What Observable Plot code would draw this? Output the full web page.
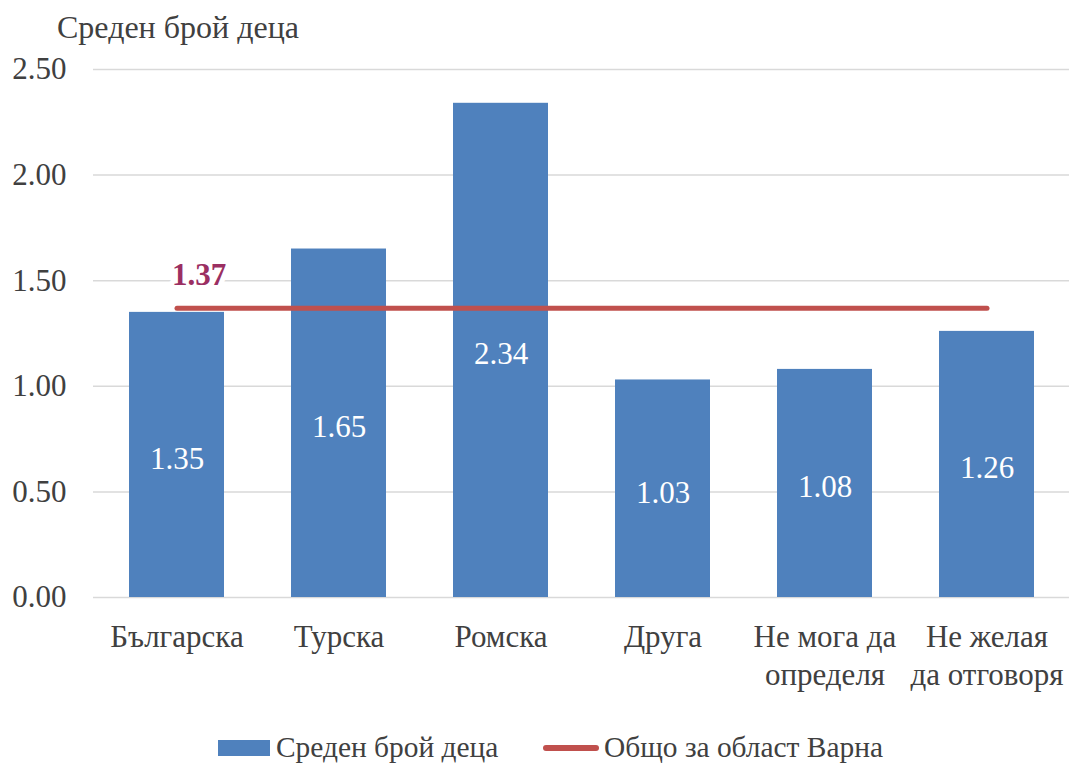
<!DOCTYPE html>
<html>
<head>
<meta charset="utf-8">
<script src="https://cdn.jsdelivr.net/npm/d3@7"></script>
<script src="https://cdn.jsdelivr.net/npm/@observablehq/plot@0.6"></script>
<style>
  body { margin: 0; background: #fff; font-family: "Liberation Serif", "Times New Roman", serif; overflow: hidden; }
  #wrap { position: relative; width: 1070px; height: 767px; overflow: hidden; }
  #title { position: absolute; left: 57px; top: 9px; font-size: 32px; color: #404040; }
  .lg { position: absolute; font-size: 30px; color: #404040; transform: scaleX(0.98); transform-origin: left center; white-space: nowrap; line-height: 1; }
  .sw { position: absolute; }
</style>
</head>
<body>
<div id="wrap">
  <div id="chart"></div>
  <div id="title">Среден брой деца</div>
  <span class="sw" style="left:218px;top:740px;width:52px;height:16px;background:#4F81BD"></span>
  <span class="lg" style="left:276px;top:732px">Среден брой деца</span>
  <span class="sw" style="left:543px;top:745px;width:56px;height:6px;border-radius:3px;background:#C0504D"></span>
  <span class="lg" style="left:604px;top:732px">Общо за област Варна</span>
</div>
<script>
const categories = ["Българска", "Турска", "Ромска", "Друга", "Не мога да\nопределя", "Не желая\nда отговоря"];
const values = [1.35, 1.65, 2.34, 1.03, 1.08, 1.26];
const overall = 1.37;
const yTicks = [0, 0.5, 1, 1.5, 2, 2.5];

const bars = categories.map((c, i) => ({cat: c, v: values[i]}));
const avgLine = categories.map(c => ({cat: c, v: overall}));

const fontFamily = '"Liberation Serif", "Times New Roman", serif';

const chart = Plot.plot({
  width: 1070,
  height: 715,
  marginTop: 69,
  marginBottom: 118,
  marginLeft: 93,
  marginRight: 1,
  style: {fontFamily, fontSize: "31px", color: "#404040", background: "#fff"},
  x: {domain: categories, paddingInner: 0.415, paddingOuter: 0.21, align: 0.5},
  y: {domain: [0, 2.5], ticks: yTicks},
  marks: [
    Plot.gridY(yTicks, {stroke: "#d9d9d9", strokeOpacity: 1, strokeWidth: 1.5}),
    Plot.axisY(yTicks, {tickSize: 0, tickPadding: 27, tickFormat: d3.format(".2f"), label: null, fontSize: 31, fontFamily, fontVariant: "normal", fill: "#404040"}),
    Plot.axisX({tickSize: 0, tickPadding: 22, label: null, fontSize: 31, fontFamily, lineHeight: 1.23, fill: "#404040"}),
    Plot.barY(bars, {x: "cat", y: "v", fill: "#4F81BD"}),
    Plot.text(bars, {x: "cat", y: d => d.v / 2, text: d => d3.format(".2f")(d.v), fill: "white", fontSize: 31, fontFamily, fontVariant: "normal", dy: 4}),
    Plot.line(avgLine, {x: "cat", y: "v", stroke: "#C0504D", strokeWidth: 5, strokeLinecap: "round"}),
    Plot.text([{cat: categories[0], v: overall}], {x: "cat", y: "v", text: d => d3.format(".2f")(d.v), fill: "#9B2F62", fontWeight: "bold", fontSize: 31, fontFamily, fontVariant: "normal", dx: 22, dy: -33, stroke: "white", strokeWidth: 10, paintOrder: "stroke"})
  ]
});
document.getElementById("chart").appendChild(chart);
</script>
</body>
</html>
